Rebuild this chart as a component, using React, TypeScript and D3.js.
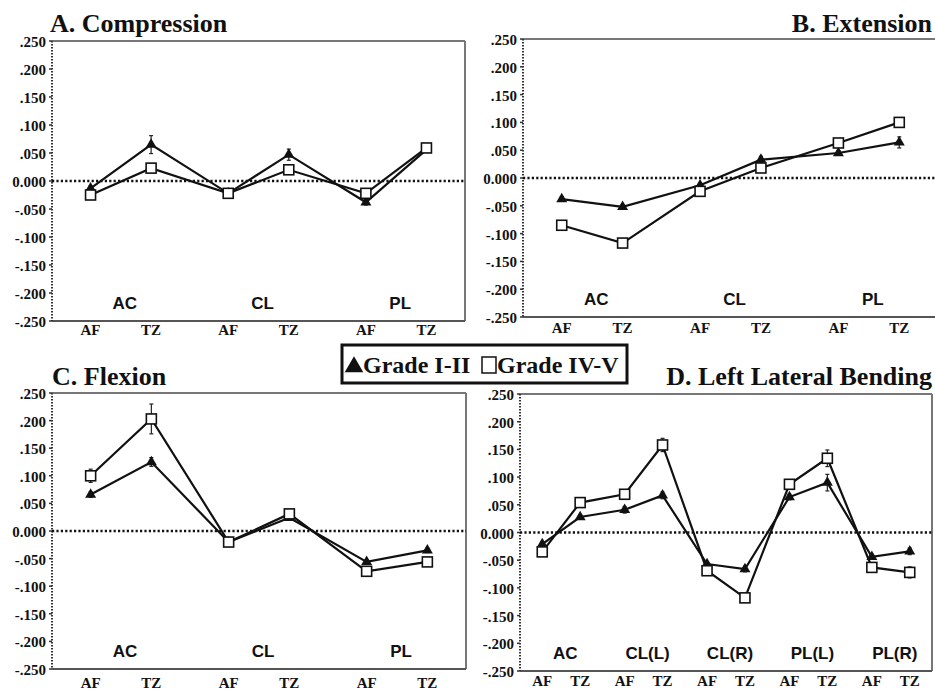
import React from "react";
import * as d3 from "d3";

// ---------- data ----------
const groups3 = ["AC", "CL", "PL"];
const groups5 = ["AC", "CL(L)", "CL(R)", "PL(L)", "PL(R)"];
const sites = ["AF", "TZ"];
const yTicks = [0.25, 0.2, 0.15, 0.1, 0.05, 0, -0.05, -0.1, -0.15, -0.2, -0.25];
const seriesNames = ["Grade I-II", "Grade IV-V"];

const compressionG12 = [-0.013, 0.065, -0.022, 0.047, -0.038, 0.056];
const compressionG45 = [-0.025, 0.023, -0.022, 0.02, -0.022, 0.059];
const compressionErrG12 = [0.004, 0.016, 0.004, 0.01, 0.005, 0.004];
const compressionErrG45 = [0.004, 0.005, 0.004, 0.004, 0.004, 0.004];

const extensionG12 = [-0.038, -0.052, -0.013, 0.033, 0.045, 0.064];
const extensionG45 = [-0.085, -0.117, -0.024, 0.018, 0.063, 0.1];
const extensionErrG12 = [0.004, 0.004, 0.004, 0.006, 0.004, 0.01];
const extensionErrG45 = [0.004, 0.005, 0.004, 0.004, 0.004, 0.004];

const flexionG12 = [0.066, 0.125, -0.02, 0.024, -0.056, -0.035];
const flexionG45 = [0.1, 0.203, -0.02, 0.031, -0.073, -0.056];
const flexionErrG12 = [0.005, 0.008, 0.004, 0.004, 0.004, 0.004];
const flexionErrG45 = [0.012, 0.027, 0.004, 0.004, 0.004, 0.004];

const lateralG12 = [-0.021, 0.028, 0.041, 0.067, -0.057, -0.066, 0.064, 0.09, -0.044, -0.034];
const lateralG45 = [-0.035, 0.054, 0.069, 0.158, -0.069, -0.118, 0.087, 0.134, -0.063, -0.072];
const lateralErrG12 = [0.004, 0.004, 0.006, 0.006, 0.004, 0.005, 0.005, 0.015, 0.004, 0.006];
const lateralErrG45 = [0.004, 0.004, 0.004, 0.012, 0.004, 0.004, 0.004, 0.015, 0.004, 0.01];

// ---------- layout ----------
const SERIF = "'Liberation Serif', 'Times New Roman', serif";
const SANS = "'Liberation Sans', Arial, sans-serif";

type PanelSpec = {
  title: string;
  titleAnchor: "start" | "end";
  titleX: number;
  titleY: number;
  x0: number;
  x1: number;
  yTop: number;
  yBot: number;
  groups: string[];
  g12: number[];
  g45: number[];
  e12: number[];
  e45: number[];
  offset: number;
  siteDy: number;
};

const panels: PanelSpec[] = [
  { title: "A. Compression", titleAnchor: "start", titleX: 50, titleY: 32, x0: 52, x1: 465, yTop: 41, yBot: 321,
    groups: groups3, g12: compressionG12, g45: compressionG45, e12: compressionErrG12, e45: compressionErrG45, offset: 0.22, siteDy: 14 },
  { title: "B. Extension", titleAnchor: "end", titleX: 932, titleY: 32, x0: 523, x1: 938, yTop: 39, yBot: 317,
    groups: groups3, g12: extensionG12, g45: extensionG45, e12: extensionErrG12, e45: extensionErrG45, offset: 0.22, siteDy: 16 },
  { title: "C. Flexion", titleAnchor: "start", titleX: 52, titleY: 385, x0: 52, x1: 466, yTop: 393, yBot: 669,
    groups: groups3, g12: flexionG12, g45: flexionG45, e12: flexionErrG12, e45: flexionErrG45, offset: 0.22, siteDy: 19 },
  { title: "D. Left Lateral Bending", titleAnchor: "end", titleX: 932, titleY: 385, x0: 520, x1: 932, yTop: 394, yBot: 671,
    groups: groups5, g12: lateralG12, g45: lateralG45, e12: lateralErrG12, e45: lateralErrG45, offset: 0.23, siteDy: 15 },
];

const fmtTick = (v: number) => {
  if (Math.abs(v) < 1e-9) return "0.000";
  return d3.format(".3f")(v).replace("0.", ".").replace("−", "-");
};

const triPath = d3.symbol().type(d3.symbolTriangle).size(52)() as string;

function Panel({ p }: { p: PanelSpec }) {
  const band = d3.scaleBand<string>().domain(p.groups).range([p.x0, p.x1]).padding(0);
  const bw = band.bandwidth();
  const y = d3.scaleLinear().domain([-0.25, 0.25]).range([p.yBot, p.yTop]);
  const pts = p.groups.flatMap((g) =>
    sites.map((s, si) => ({ g, s, x: (band(g) as number) + bw / 2 + (si === 0 ? -1 : 1) * p.offset * bw }))
  );
  const line = d3.line<number>().x((_, i) => pts[i].x).y((v) => y(v));

  const errBar = (v: number, e: number, x: number, k: string) => (
    <g key={k} stroke="#222" strokeWidth={1.2}>
      <line x1={x} x2={x} y1={y(v + e)} y2={y(v - e)} />
      <line x1={x - 2} x2={x + 2} y1={y(v + e)} y2={y(v + e)} />
      <line x1={x - 2} x2={x + 2} y1={y(v - e)} y2={y(v - e)} />
    </g>
  );

  return (
    <g>
      <text x={p.titleX} y={p.titleY} textAnchor={p.titleAnchor} fontFamily={SERIF} fontWeight="bold" fontSize={26} fill="#111">
        {p.title}
      </text>
      {/* frame */}
      <line x1={p.x0} x2={p.x1} y1={p.yTop} y2={p.yTop} stroke="#777" strokeWidth={2} />
      <line x1={p.x1} x2={p.x1} y1={p.yTop} y2={p.yBot} stroke="#777" strokeWidth={2} />
      <line x1={p.x0} x2={p.x1} y1={p.yBot} y2={p.yBot} stroke="#555" strokeWidth={2} />
      {/* left axis dotted */}
      <line x1={p.x0} x2={p.x0} y1={p.yTop} y2={p.yBot} stroke="#333" strokeWidth={2} strokeDasharray="1.5,1.5" />
      {yTicks.map((t) => (
        <g key={t}>
          <line x1={p.x0 - 3} x2={p.x0} y1={y(t)} y2={y(t)} stroke="#333" strokeWidth={1.5} />
          <text x={p.x0 - 6} y={y(t) + 6} textAnchor="end" fontFamily={SERIF} fontWeight="bold" fontSize={15} fill="#111">
            {fmtTick(t)}
          </text>
        </g>
      ))}
      {/* zero reference */}
      <line x1={p.x0} x2={p.x1} y1={y(0)} y2={y(0)} stroke="#111" strokeWidth={2.6} strokeDasharray="2.2,2.2" />
      {/* group labels */}
      {p.groups.map((g) => (
        <text key={g} x={(band(g) as number) + bw / 2 + 4} y={p.yBot - 12} textAnchor="middle" fontFamily={SANS} fontWeight="bold" fontSize={17} fill="#111">
          {g}
        </text>
      ))}
      {/* site labels */}
      {pts.map((pt, i) => (
        <text key={i} x={pt.x} y={p.yBot + p.siteDy} textAnchor="middle" fontFamily={SERIF} fontWeight="bold" fontSize={15} fill="#111">
          {pt.s}
        </text>
      ))}
      {/* error bars */}
      {p.g12.map((v, i) => errBar(v, p.e12[i], pts[i].x, "e12" + i))}
      {p.g45.map((v, i) => errBar(v, p.e45[i], pts[i].x, "e45" + i))}
      {/* lines */}
      <path d={line(p.g12) as string} fill="none" stroke="#111" strokeWidth={2.2} />
      <path d={line(p.g45) as string} fill="none" stroke="#111" strokeWidth={2.2} />
      {/* markers */}
      {p.g12.map((v, i) => (
        <path key={"t" + i} d={triPath} transform={`translate(${pts[i].x},${y(v)})`} fill="#111" />
      ))}
      {p.g45.map((v, i) => (
        <rect key={"s" + i} x={pts[i].x - 5} y={y(v) - 5} width={10} height={10} fill="#fff" stroke="#111" strokeWidth={1.6} />
      ))}
    </g>
  );
}

function Legend() {
  const tri = d3.symbol().type(d3.symbolTriangle).size(150)() as string;
  return (
    <g>
      <rect x={342} y={345} width={285} height={38} fill="#fff" stroke="#111" strokeWidth={3} />
      <path d={tri} transform="translate(354,367)" fill="#111" />
      <text x={363} y={373} fontFamily={SERIF} fontWeight="bold" fontSize={24} fill="#111">
        {seriesNames[0]}
      </text>
      <rect x={482} y={357} width={14} height={16} fill="#fff" stroke="#111" strokeWidth={1.5} />
      <text x={497} y={373} fontFamily={SERIF} fontWeight="bold" fontSize={24} fill="#111">
        {seriesNames[1]}
      </text>
    </g>
  );
}

export default function App() {
  return (
    <svg width={935} height={691} style={{ position: "absolute", left: 0, top: 0, background: "#fff" }}>
      <rect x={0} y={0} width={935} height={691} fill="#fff" />
      {panels.map((p) => (
        <Panel key={p.title} p={p} />
      ))}
      <Legend />
    </svg>
  );
}
